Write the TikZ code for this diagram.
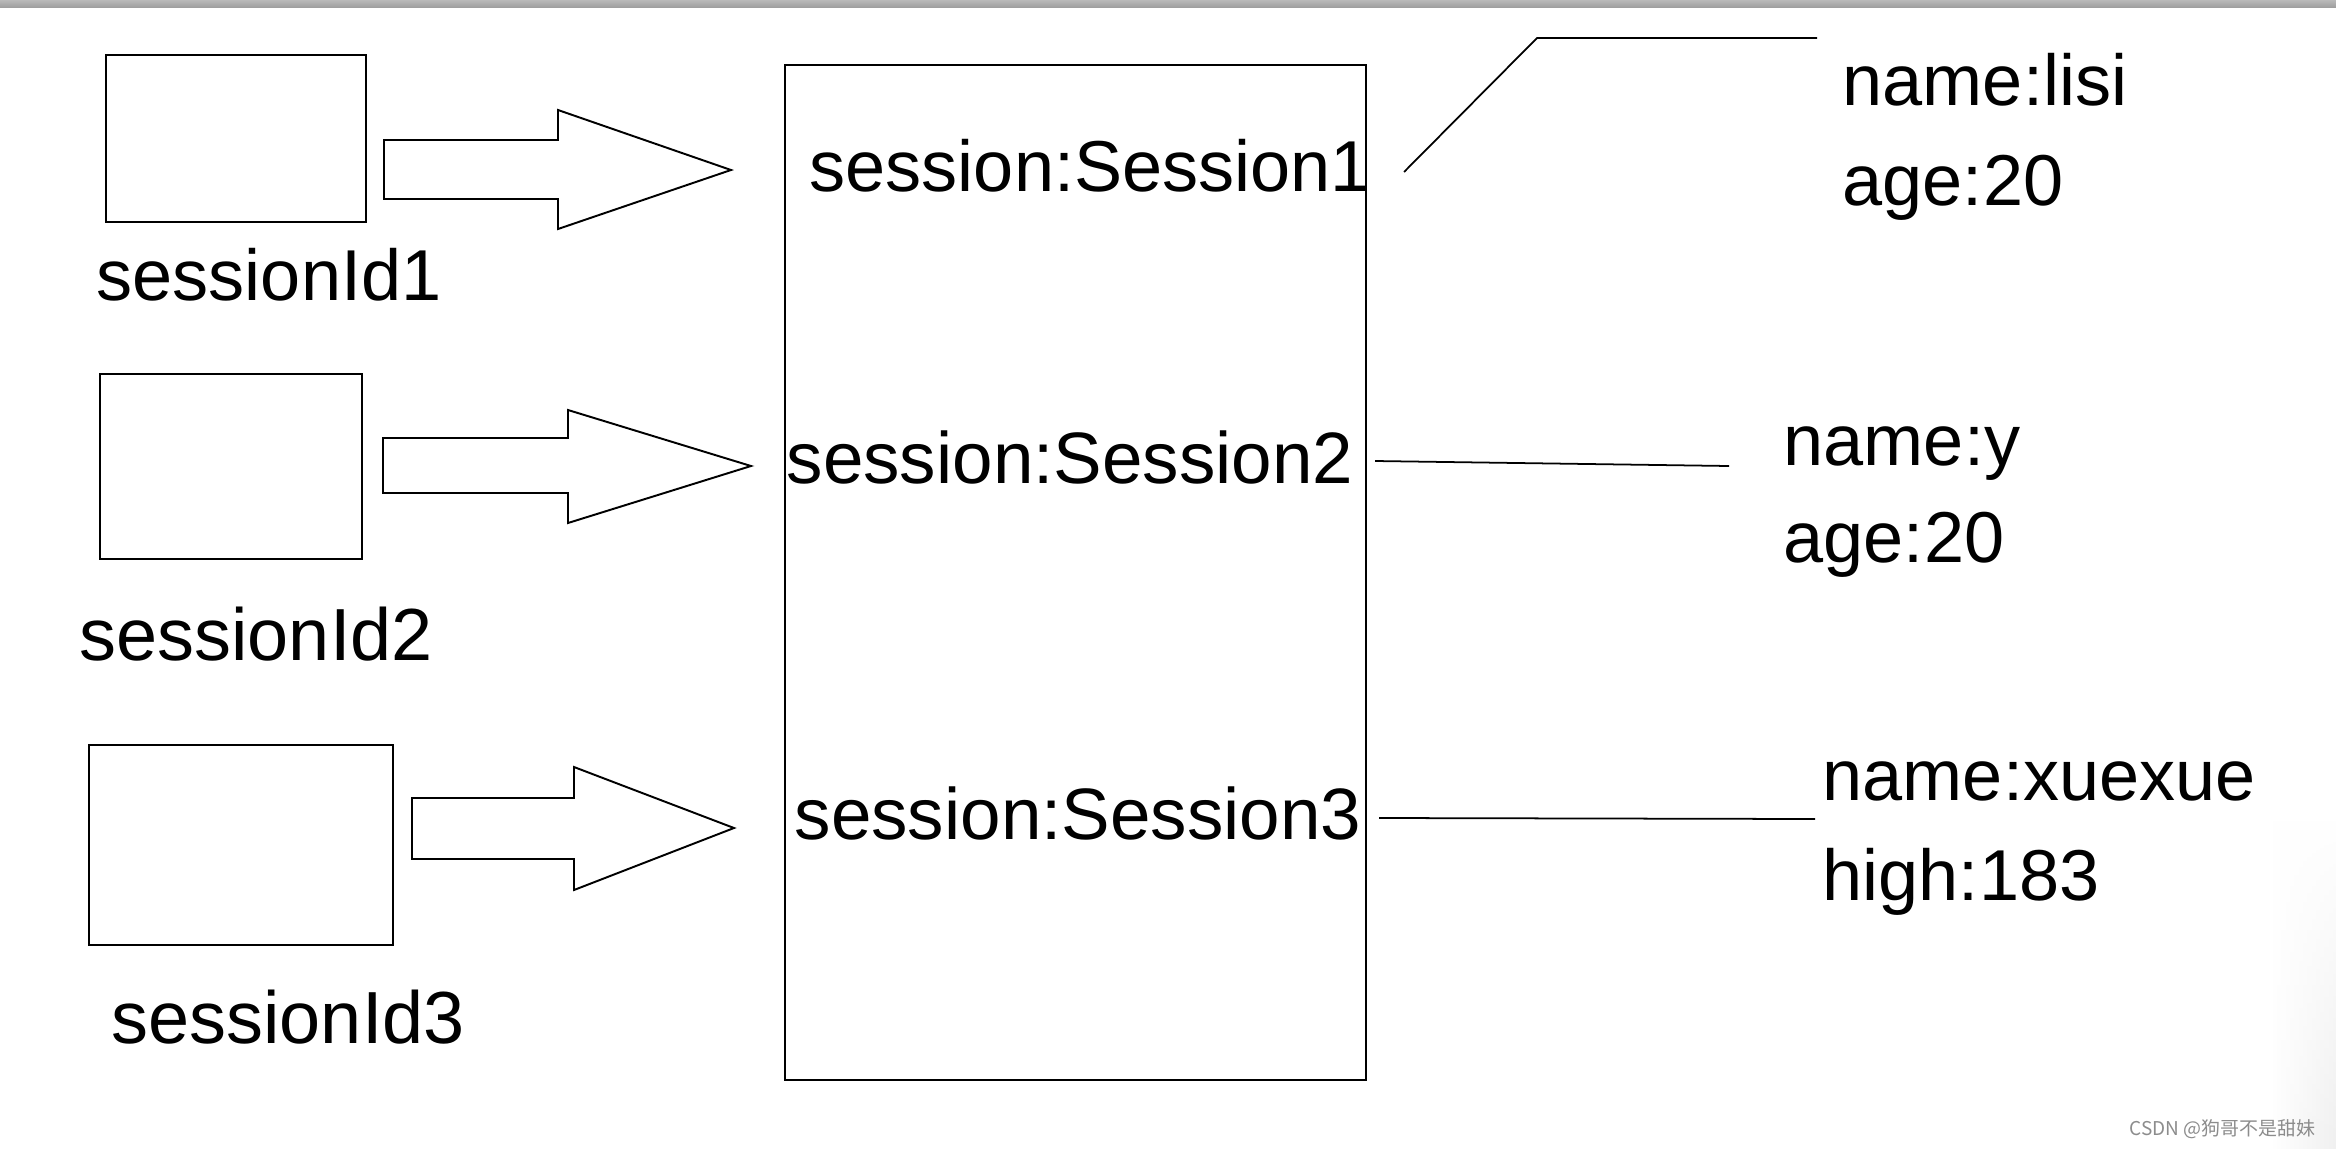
\documentclass[tikz,border=0pt]{standalone}
\usepackage{fontspec}
\setmainfont{Liberation Sans}
\newfontfamily\cjkwm{Noto Sans CJK SC}
\usetikzlibrary{fadings}
\tikzfading[name=fadetop, top color=transparent!100, bottom color=transparent!0]
\begin{document}
\begin{tikzpicture}[x=0.01cm,y=-0.01cm,
  lbl/.style={anchor=base west,inner sep=0pt,font=\fontsize{20.5}{24}\selectfont},
  lblb/.style={lbl,font=\fontsize{21}{24}\selectfont},
  idbox/.style={draw,line width=0.6pt},
  blockarrow/.style={draw,line width=0.55pt,fill=white,line join=miter},
  link/.style={draw,line width=0.5pt}]
\useasboundingbox (0,0) rectangle (2336,1148);
\fill[white] (0,0) rectangle (2336,1148);
\shade[top color=gray!55,bottom color=gray!75] (0,0) rectangle (2336,7);
\shade[left color=white,right color=black!6,path fading=fadetop] (2270,820) rectangle (2336,1148);

% id boxes
\draw[idbox] (106,55) rectangle (366,222);
\draw[idbox] (100,374) rectangle (362,559);
\draw[idbox] (89,745) rectangle (393,945);
\node[lbl] (id1) at (96,300) {sessionId1};
\node[lblb] (id2) at (79,660) {sessionId2};
\node[lblb] (id3) at (111,1043) {sessionId3};

% block arrows
\draw[blockarrow] (384,140) -- (558,140) -- (558,110) -- (731,170) -- (558,229) -- (558,199) -- (384,199) -- cycle;
\draw[blockarrow] (383,438) -- (568,438) -- (568,410) -- (751,466) -- (568,523) -- (568,493) -- (383,493) -- cycle;
\draw[blockarrow] (412,798) -- (574,798) -- (574,767) -- (734,828) -- (574,890) -- (574,859) -- (412,859) -- cycle;

% session container
\draw[line width=0.6pt] (785,65) rectangle (1366,1080);
\node[lbl] (s1) at (809,191) {session:Session1};
\node[lbl,font=\fontsize{20.7}{24}\selectfont] (s2) at (786,483) {session:Session2};
\node[lbl,font=\fontsize{20.7}{24}\selectfont] (s3) at (794,839) {session:Session3};

% attribute texts
\node[lbl] (a1n) at (1842,105) {name:lisi};
\node[lbl] (a1a) at (1842,205) {age:20};
\node[lbl] (a2n) at (1783,465) {name:y};
\node[lbl] (a2a) at (1783,562) {age:20};
\node[lbl] (a3n) at (1822,800) {name:xuexue};
\node[lbl] (a3h) at (1822,900) {high:183};

% connectors
\coordinate (c1s) at (1404,172);
\coordinate (c1k) at (1537,38);
\coordinate (c1e) at (1817,38);
\draw[link] (c1s) -- (c1k) -- (c1e);
\coordinate (c2s) at (1375,461);
\coordinate (c2e) at (1729,466);
\draw[link] (c2s) -- (c2e);
\coordinate (c3s) at (1379,818);
\coordinate (c3e) at (1815,819);
\draw[link] (c3s) -- (c3e);

% watermark
\node[anchor=base west,inner sep=0pt,text=black!45,font=\cjkwm\fontsize{5.4}{6}\selectfont] (wm) at (2129,1135) {CSDN @狗哥不是甜妹};
\end{tikzpicture}
\end{document}
